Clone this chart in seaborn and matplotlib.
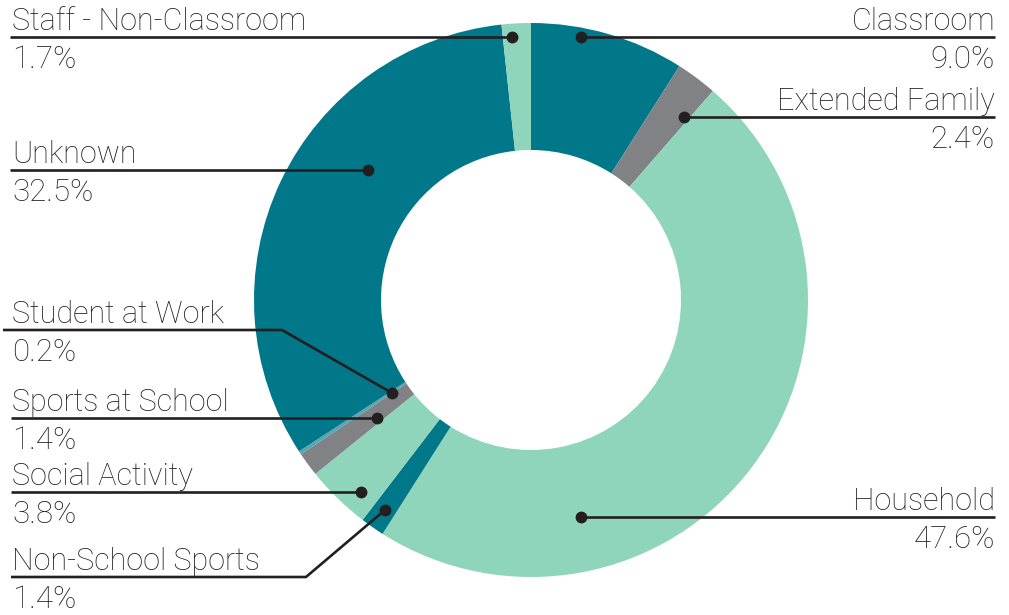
import matplotlib.pyplot as plt
import seaborn as sns

# categories clockwise from 12 o'clock
categories = ['Classroom', 'Extended Family', 'Household', 'Non-School Sports',
              'Social Activity', 'Sports at School', 'Student at Work',
              'Unknown', 'Staff - Non-Classroom']
shares = [9.0, 2.4, 47.6, 1.4, 3.8, 1.4, 0.2, 32.5, 1.7]

teal, grey, mint, sky = '#00788a', '#808285', '#8fd5bb', '#57a6b3'
slice_colors = [teal, grey, mint, teal, mint, grey, sky, teal, mint]
ink = '#231f20'

# label layout in pixels (y down): side, line y, line start x, dot, elbow
label_layout = {
    'Classroom':             ('right', 37, 995, (581, 37), None),
    'Extended Family':       ('right', 117, 995, (684, 117), None),
    'Household':             ('right', 517, 995, (581, 517), None),
    'Non-School Sports':     ('left', 577, 11, (385, 510), (306, 577)),
    'Social Activity':       ('left', 492, 11, (361, 492), None),
    'Sports at School':      ('left', 418, 11, (377, 418), None),
    'Student at Work':       ('left', 330, 3, (392, 393), (282, 330)),
    'Unknown':               ('left', 170, 10, (368, 170), None),
    'Staff - Non-Classroom': ('left', 37, 10, (512, 37), None),
}

W, H = 1009, 615
sns.set_theme(style='white')
plt.rcParams['font.family'] = ['Roboto', 'DejaVu Sans']

fig = plt.figure(figsize=(W / 100, H / 100), dpi=100)
ax = fig.add_axes([0, 0, 1, 1])

# y axis is flipped below, so counterclock=True reads clockwise on screen
ax.pie(shares, colors=slice_colors, center=(531, 300), radius=277,
       startangle=-90, counterclock=True,
       wedgeprops=dict(width=127, linewidth=0))

ax.set_xlim(0, W)
ax.set_ylim(H, 0)
ax.set_aspect('equal')
ax.axis('off')

for name, share in zip(categories, shares):
    side, ly, lx, dot, elbow = label_layout[name]
    xs = [lx] + ([elbow[0]] if elbow else []) + [dot[0]]
    ys = [ly] + ([elbow[1]] if elbow else []) + [dot[1]]
    ax.plot(xs, ys, color=ink, lw=1.9, solid_capstyle='butt', zorder=3)
    ax.plot(dot[0], dot[1], 'o', color=ink, ms=7.5, zorder=4)
    tx = 12 if side == 'left' else 995
    ha = 'left' if side == 'left' else 'right'
    ax.text(tx, ly - 7, name, ha=ha, va='baseline', fontsize=22,
            fontweight='light', color=ink)
    ax.text(tx, ly + 31, f'{share:.1f}%', ha=ha, va='baseline', fontsize=22.5,
            fontweight='light', color=ink)

fig.savefig('out.png', dpi=100)
